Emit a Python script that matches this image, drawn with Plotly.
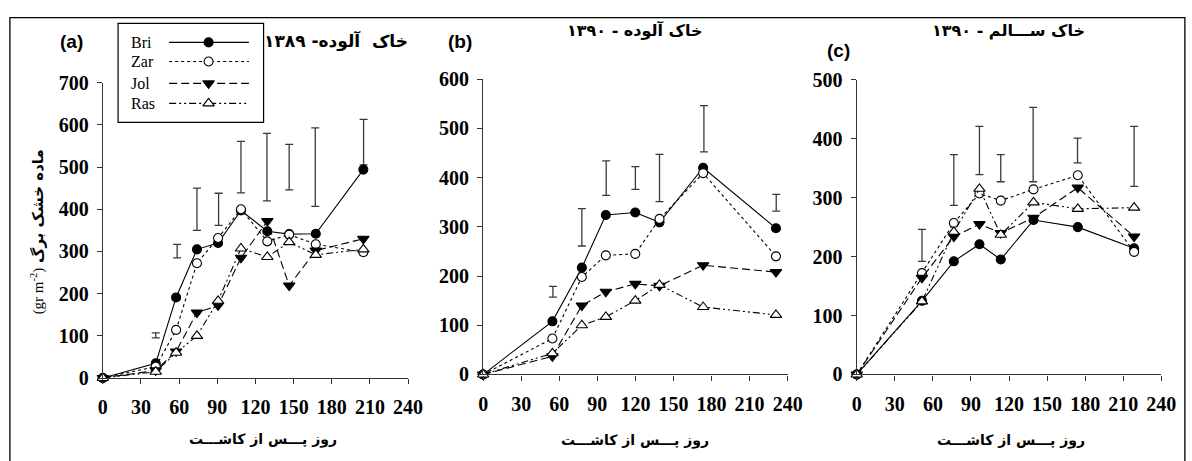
import plotly.graph_objects as go

W, H = 1192, 461

# ---------------- data: (a) contaminated soil 1389 ----------------
a_days = [0, 41.6, 57.6, 74, 90.6, 108.6, 129.3, 146.5, 167.4, 204.8]
a_bri = [0, 35, 191, 305, 320, 397, 348, 341, 342, 494]
a_zar = [0, 27, 114, 272, 332, 400, 324, 340, 317, 298]
a_jol = [0, 18, 63, 155, 172, 285, 372, 219, 302, 330]
a_ras = [0, 15, 60, 100, 183, 307, 287, 322, 292, 305]
a_err_days = [41.6, 58.4, 74, 91, 108.6, 129, 146.5, 167, 205]
a_err_mid = [101, 301, 400, 400, 500, 500, 500, 500, 559]
a_err_half = [6, 16, 50, 38, 61, 80, 54, 93, 54]

# ---------------- data: (b) contaminated soil 1390 ----------------
b_days = [0, 54.6, 77.8, 96.7, 119.9, 139, 173.4, 230.8]
b_bri = [0, 108, 217, 324, 329, 309, 420, 297]
b_zar = [0, 73, 198, 242, 245, 316, 409, 240]
b_jol = [0, 37, 140, 168, 184, 180, 222, 208]
b_ras = [0, 43, 100, 117, 150, 182, 137, 121]
b_err_days = [55, 77.8, 97, 120, 139, 174, 231]
b_err_mid = [168, 299, 399, 399, 399, 499, 349]
b_err_half = [11, 38, 35, 23, 48, 47, 17]

# ---------------- data: (c) healthy soil 1390 ----------------
c_days = [0, 51.4, 76.5, 96.7, 113.5, 139.3, 174.2, 218.6]
c_bri = [0, 125, 192, 221, 195, 262, 250, 214]
c_zar = [0, 172, 257, 307, 295, 314, 338, 208]
c_jol = [0, 164, 234, 255, 240, 266, 317, 234]
c_ras = [0, 124, 242, 315, 237, 292, 281, 283]
c_err_days = [51.4, 76.5, 96.7, 113.5, 139, 174, 218.6]
c_err_mid = [219, 330, 380, 350, 390, 380, 370]
c_err_half = [27, 43, 41, 23, 63, 21, 51]

day_ticks = [0, 30, 60, 90, 120, 150, 180, 210, 240]
series_names = ["Bri", "Zar", "Jol", "Ras"]

# line / marker style per cultivar
STYLE = {
    "Bri": dict(dash="solid", symbol="circle", fill="black", size=9),
    "Zar": dict(dash="dot", symbol="circle", fill="white", size=9),
    "Jol": dict(dash="8px,4px", symbol="triangle-down", fill="black", size=10),
    "Ras": dict(dash="7px,3px,2px,3px,2px,3px", symbol="triangle-up", fill="white", size=10),
}


def px_x(p):
    return p / W


def px_y(p):
    return (H - p) / H


fig = go.Figure()


def add_series(name, xs, ys, xa, ya):
    st = STYLE[name]
    fig.add_trace(go.Scatter(
        x=xs, y=ys, mode="lines+markers", xaxis=xa, yaxis=ya,
        line=dict(color="black", width=1.1, dash=st["dash"]),
        marker=dict(symbol=st["symbol"], size=st["size"], color=st["fill"],
                    line=dict(color="black", width=1.1)),
        cliponaxis=False, showlegend=False, name=name))


def add_err(xs, mids, halves, xa, ya):
    fig.add_trace(go.Scatter(
        x=xs, y=mids, mode="markers", xaxis=xa, yaxis=ya,
        marker=dict(size=1, opacity=0),
        error_y=dict(type="data", array=halves, visible=True,
                     color="#3a3a3a", thickness=1.3, width=4),
        cliponaxis=False, showlegend=False, hoverinfo="skip"))


# panel (a)
add_err(a_err_days, a_err_mid, a_err_half, "x", "y")
for nm, vals in zip(series_names, [a_bri, a_zar, a_jol, a_ras]):
    add_series(nm, a_days, vals, "x", "y")

# panel (b)
add_err(b_err_days, b_err_mid, b_err_half, "x2", "y2")
for nm, vals in zip(series_names, [b_bri, b_zar, b_jol, b_ras]):
    add_series(nm, b_days, vals, "x2", "y2")

# panel (c)
add_err(c_err_days, c_err_mid, c_err_half, "x3", "y3")
for nm, vals in zip(series_names, [c_bri, c_zar, c_jol, c_ras]):
    add_series(nm, c_days, vals, "x3", "y3")

# ---------------- axes ----------------
tickfont = dict(family="Liberation Serif", size=20, color="black")
axis_common = dict(showline=True, linecolor="#333", linewidth=1.3, ticks="outside",
                   ticklen=5, tickwidth=1.2, tickcolor="#333", showgrid=False,
                   zeroline=False, tickfont=tickfont, fixedrange=True)


def bold(vals):
    return [f"<b>{v}</b>" for v in vals]


def xaxis(x0, x1, anchor):
    return dict(domain=[px_x(x0), px_x(x1)], range=[0, 240], tickvals=day_ticks,
                ticktext=bold(day_ticks), anchor=anchor, ticklabelstandoff=6,
                **axis_common)


def yaxis(y_bottom, y_top, top_val, anchor):
    vals = list(range(0, top_val + 1, 100))
    return dict(domain=[px_y(y_bottom), px_y(y_top)], range=[0, top_val],
                tickvals=vals, ticktext=bold(vals), anchor=anchor,
                ticklabelstandoff=4, **axis_common)


fig.update_layout(
    xaxis=xaxis(99.5, 410, "y"),
    yaxis=yaxis(385.4, 385.4 - 700 * 0.443, 700, "x"),
    xaxis2=xaxis(486.3, 796, "y2"),
    yaxis2=yaxis(381.7, 381.7 - 600 * 0.517, 600, "x2"),
    xaxis3=xaxis(866.3, 1176, "y3"),
    yaxis3=yaxis(381.7, 381.7 - 500 * 0.619, 500, "x3"),
)

# ---------------- legend box (text left, sample right) ----------------
lg_x0, lg_x1, lg_y0, lg_y1 = 115, 263, 13, 117
fig.update_layout(
    xaxis4=dict(domain=[px_x(lg_x0), px_x(lg_x1)], range=[0, 1], visible=False,
                anchor="y4", fixedrange=True),
    yaxis4=dict(domain=[px_y(lg_y1), px_y(lg_y0)], range=[0, 1], visible=False,
                anchor="x4", fixedrange=True),
)
legend_rows = [0.808, 0.615, 0.394, 0.192]
for nm, ry in zip(series_names, legend_rows):
    st = STYLE[nm]
    fig.add_trace(go.Scatter(
        x=[0.351, 0.899], y=[ry, ry], mode="lines", xaxis="x4", yaxis="y4",
        line=dict(color="black", width=1.1, dash=st["dash"]),
        showlegend=False, hoverinfo="skip"))
    fig.add_trace(go.Scatter(
        x=[0.622], y=[ry], mode="markers", xaxis="x4", yaxis="y4",
        marker=dict(symbol=st["symbol"], size=st["size"], color=st["fill"],
                    line=dict(color="black", width=1.1)),
        showlegend=False, hoverinfo="skip"))
    fig.add_annotation(x=0.075, y=ry, xref="x4", yref="y4", text=nm,
                       showarrow=False, xanchor="left", yanchor="middle",
                       font=dict(family="Liberation Serif", size=16, color="black"))

shapes = [
    dict(type="rect", xref="paper", yref="paper",
         x0=px_x(lg_x0), x1=px_x(lg_x1), y0=px_y(lg_y1), y1=px_y(lg_y0),
         line=dict(color="black", width=1.2)),
    # outer frame
    dict(type="rect", xref="paper", yref="paper",
         x0=px_x(5), x1=px_x(1200), y0=px_y(475), y1=px_y(7),
         line=dict(color="black", width=1.3)),
]
fig.update_layout(shapes=shapes)

# ---------------- text ----------------
arab = "DejaVu Sans"


def label(x, y, text, size, family, angle=0):
    fig.add_annotation(x=px_x(x), y=px_y(y), xref="paper", yref="paper",
                       text=f"<b>{text}</b>", showarrow=False,
                       xanchor="center", yanchor="middle", textangle=angle,
                       font=dict(family=family, size=size, color="black"))


label(68, 32, "(a)", 19, "Liberation Sans")
label(463, 32, "(b)", 19, "Liberation Sans")
label(848, 42, "(c)", 19, "Liberation Sans")

label(337, 31, "خاک  آلوده- ۱۳۸۹", 17, arab)
label(641, 20, "خاک آلوده - ۱۳۹۰", 16, arab)
label(1021, 21, "خاک ســـالم - ۱۳۹۰", 16, arab)

xtitle = "روز پـــس از کاشـــت"
label(262, 450, xtitle, 14, arab)
label(641, 451, xtitle, 14, arab)
label(1023, 451, xtitle, 14, arab)

fig.add_annotation(
    x=px_x(33), y=px_y(232), xref="paper", yref="paper", showarrow=False,
    textangle=-90, xanchor="center", yanchor="middle",
    text=('<span style="font-family:Liberation Serif">(gr m<sup>-2</sup>)</span>'
          ' <b>ماده خشک برگ</b>'),
    font=dict(family=arab, size=15, color="black"))

fig.update_layout(
    width=W, height=H, margin=dict(l=0, r=0, t=0, b=0),
    paper_bgcolor="white", plot_bgcolor="rgba(0,0,0,0)",
    showlegend=False,
)

fig.write_html("out.html")
